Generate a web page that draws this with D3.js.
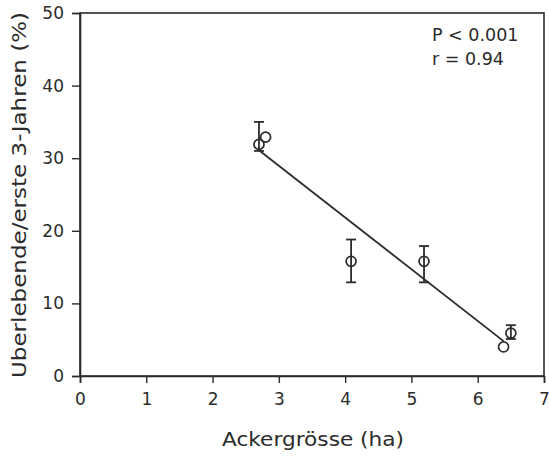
<!DOCTYPE html>
<html><head><meta charset="utf-8">
<script src="https://cdn.jsdelivr.net/npm/d3@7"></script>
<style>body{margin:0;background:#fff}</style>
</head><body>
<svg id="c" width="549" height="457"></svg>
<script>
const xVals = [2.70, 2.80, 4.09, 5.19, 6.39, 6.50];
const yVals = [31.9, 32.9, 15.8, 15.8, 4.0, 5.9];
const errLow = [31.0, null, 12.9, 12.9, null, 5.1];
const errHigh = [35.0, null, 18.8, 17.9, null, 7.0];
const fitX = [2.70, 6.39];
const fitY = [31.1, 4.8];
const xTicks = [0,1,2,3,4,5,6,7];
const yTicks = [0,10,20,30,40,50];
const statsText = ["P < 0.001", "r = 0.94"];
const xTitle = "Ackergrösse (ha)";
const yTitle = "Uberlebende/erste 3-Jahren (%)";

const ink = "#2b2b2b";
const font = "DejaVu Sans, Verdana, sans-serif";
const L = 80, R = 544, T = 13, B = 376;
const svg = d3.select("#c");
const x = d3.scaleLinear().domain([0,7]).range([L,R]);
const y = d3.scaleLinear().domain([0,50]).range([B,T]);

svg.append("rect").attr("x",L).attr("y",T).attr("width",R-L).attr("height",B-T)
  .attr("fill","none").attr("stroke",ink).attr("stroke-width",1.6);

const xa = svg.append("g").attr("transform",`translate(0,${B})`)
  .call(d3.axisBottom(x).tickValues(xTicks).tickSize(7).tickPadding(10).tickFormat(d3.format("d")));
const ya = svg.append("g").attr("transform",`translate(${L},0)`)
  .call(d3.axisLeft(y).tickValues(yTicks).tickSize(8).tickPadding(8).tickFormat(d3.format("d")));
[xa,ya].forEach(a=>{
  a.select(".domain").attr("stroke",ink).attr("stroke-width",1.6);
  a.selectAll(".tick line").attr("stroke",ink).attr("stroke-width",1.4);
  a.selectAll("text").attr("fill",ink).attr("font-family",font).attr("font-size",17);
});

svg.append("line").attr("x1",x(fitX[0])).attr("y1",y(fitY[0]))
  .attr("x2",x(fitX[1])).attr("y2",y(fitY[1]))
  .attr("stroke",ink).attr("stroke-width",1.8);

const eb = xVals.map((v,i)=>({x:v,lo:errLow[i],hi:errHigh[i]})).filter(d=>d.lo!=null);
const g = svg.append("g").attr("stroke",ink).attr("stroke-width",1.8);
eb.forEach(d=>{
  g.append("line").attr("x1",x(d.x)).attr("x2",x(d.x)).attr("y1",y(d.lo)).attr("y2",y(d.hi));
  [d.lo,d.hi].forEach(v=>g.append("line").attr("x1",x(d.x)-5).attr("x2",x(d.x)+5).attr("y1",y(v)).attr("y2",y(v)));
});

svg.append("g").selectAll("circle").data(xVals.map((v,i)=>[v,yVals[i]])).join("circle")
  .attr("cx",d=>x(d[0])).attr("cy",d=>y(d[1])).attr("r",5)
  .attr("fill","none").attr("stroke",ink).attr("stroke-width",1.7);

svg.append("text").attr("x",432).attr("y",41).text(statsText[0])
  .attr("font-family",font).attr("font-size",17.5).attr("fill",ink);
svg.append("text").attr("x",432).attr("y",65).text(statsText[1])
  .attr("font-family",font).attr("font-size",17.5).attr("fill",ink);

svg.append("text").attr("x",313).attr("y",446).attr("text-anchor","middle")
  .text(xTitle).attr("font-family",font).attr("font-size",19).attr("fill",ink)
  .attr("textLength",182).attr("lengthAdjust","spacingAndGlyphs");
svg.append("text").attr("transform",`translate(26,195) rotate(-90)`).attr("text-anchor","middle")
  .text(yTitle).attr("font-family",font).attr("font-size",19).attr("fill",ink)
  .attr("textLength",366).attr("lengthAdjust","spacingAndGlyphs");
</script>
</body></html>
